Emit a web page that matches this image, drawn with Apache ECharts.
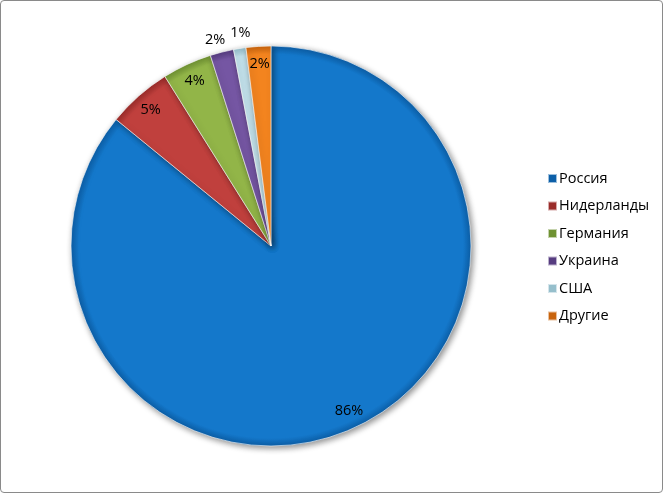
<!DOCTYPE html>
<html><head><meta charset="utf-8">
<script src="https://cdn.jsdelivr.net/npm/echarts@6/dist/echarts.min.js"></script>
<style>
html,body{margin:0;padding:0;background:#fff;}
#frame{position:absolute;left:0;top:0;width:661px;height:491px;border:1px solid #8a8a8a;border-radius:4px;overflow:hidden;}
#c{width:661px;height:491px;}
</style></head><body>
<div id="frame"><div id="c"></div></div>
<script>
const categories = ['Россия','Нидерланды','Германия','Украина','США','Другие'];
const values = [85.9, 5.2, 4.0, 1.9, 1.0, 2.0];
const colors = ['#1478cb','#c0403d','#92b548','#7556a3','#c2e1eb','#f3841f'];
const edgeColors = ['#0c5fa8','#9a2c2a','#6f9232','#563c80','#96bfcc','#c9640d'];
const outsideLabel = ['Украина','США'];
const outsideOffset = {'Украина':[-3,2], 'США':[3,-1]};

const CX = 270, CY = 245, R = 200;
function grad(i){
  return {type:'radial', x:CX, y:CY, r:R, global:true,
    colorStops:[{offset:0,color:colors[i]},{offset:0.96,color:colors[i]},{offset:1,color:edgeColors[i]}]};
}
const fmt = p => Math.round(p.percent) + '%';
const chart = echarts.init(document.getElementById('c'));
chart.setOption({
  animation:false,
  legend:{
    orient:'vertical', left:541, top:165, itemWidth:9, itemHeight:9, itemGap:12.5,
    icon:'rect',
    textStyle:{fontFamily:'Open Sans', fontSize:14.5, color:'#000', padding:[0,0,0,-3]},
    data:categories
  },
  series:[
    {type:'pie', center:[CX,CY], radius:[0,R], startAngle:90, clockwise:true,
     label:{show:false}, labelLine:{show:false}, silent:true,
     itemStyle:{borderColor:'rgba(255,255,255,0.6)', borderWidth:1,
       shadowBlur:6, shadowColor:'rgba(0,0,0,0.45)', shadowOffsetX:2, shadowOffsetY:2},
     data:categories.map((n,i)=>({name:n, value:values[i], itemStyle:{color:grad(i)}}))
    },
    {type:'pie', center:[CX,CY], radius:[R*0.79,R], startAngle:90, silent:true,
     legendHoverLink:false, avoidLabelOverlap:false, labelLayout:{hideOverlap:false},
     itemStyle:{color:'rgba(0,0,0,0)'},
     label:{show:true, position:'inside', formatter:fmt, fontFamily:'Open Sans', fontSize:14.5, color:'#000'},
     data:categories.map((n,i)=>({name:n, value:values[i],
       label:{show: outsideLabel.indexOf(n)<0}}))
    },
    {type:'pie', center:[CX,CY], radius:[R,R*1.12], startAngle:90, silent:true,
     legendHoverLink:false, avoidLabelOverlap:false, labelLayout:{hideOverlap:false},
     itemStyle:{color:'rgba(0,0,0,0)'},
     label:{show:true, position:'inside', formatter:fmt, fontFamily:'Open Sans', fontSize:14.5, color:'#000'},
     data:categories.map((n,i)=>({name:n, value:values[i],
       label:{show: outsideLabel.indexOf(n)>=0, offset: outsideOffset[n] || [0,0]}}))
    }
  ]
});
</script>
</body></html>
